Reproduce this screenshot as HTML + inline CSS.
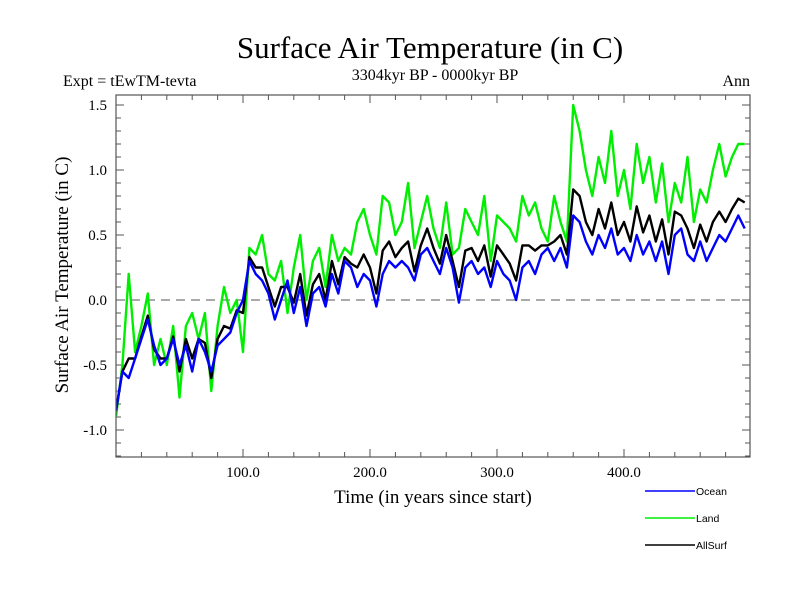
<!DOCTYPE html>
<html><head><meta charset="utf-8"><style>body{margin:0;background:#fff}svg{display:block}</style></head>
<body>
<svg id="chart" width="800" height="600" xmlns="http://www.w3.org/2000/svg" font-family="Liberation Serif, serif">
<text x="430" y="58" font-size="31" text-anchor="middle">Surface Air Temperature (in C)</text>
<text x="63" y="86" font-size="16">Expt = tEwTM-tevta</text>
<text x="435" y="80" font-size="16" text-anchor="middle">3304kyr BP - 0000kyr BP</text>
<text x="750" y="86" font-size="16" text-anchor="end">Ann</text>
<text transform="translate(68,275) rotate(-90)" font-size="19" text-anchor="middle">Surface Air Temperature (in C)</text>
<text x="433" y="503" font-size="19" text-anchor="middle">Time (in years since start)</text>
<g id="ticks"></g>
<g id="series" clip-path="url(#clip)"></g>
<defs><clipPath id="clip"><rect x="116" y="95" width="634" height="362"/></clipPath></defs>
<rect x="116" y="95" width="634" height="362" fill="none" stroke="#555" stroke-width="1.2"/>
<g font-family="Liberation Sans, sans-serif" font-size="10.5">
<line x1="645" y1="491" x2="695" y2="491" stroke="#00f" stroke-width="1.5"/>
<text x="696" y="495">Ocean</text>
<line x1="645" y1="518" x2="695" y2="518" stroke="#0e0" stroke-width="1.5"/>
<text x="696" y="522">Land</text>
<line x1="645" y1="545" x2="695" y2="545" stroke="#000" stroke-width="1.5"/>
<text x="696" y="549">AllSurf</text>
</g>
</svg>
<script>
const yearStep = 5;
const xTickLabels = ["100.0","200.0","300.0","400.0"];
const xTickValues = [100,200,300,400];
const yTickValues = [1.5,1.0,0.5,0.0,-0.5,-1.0];
const yTickLabels = ["1.5","1.0","0.5","0.0","-0.5","-1.0"];
const ocean = [-0.85,-0.55,-0.6,-0.45,-0.3,-0.15,-0.35,-0.5,-0.45,-0.3,-0.5,-0.35,-0.55,-0.3,-0.4,-0.55,-0.35,-0.3,-0.25,-0.1,
0.0,0.3,0.2,0.15,0.05,-0.15,0.0,0.15,-0.1,0.1,-0.2,0.05,0.1,-0.05,0.2,0.05,0.3,0.25,0.1,0.2,
0.15,-0.05,0.2,0.3,0.25,0.3,0.25,0.15,0.35,0.4,0.3,0.2,0.4,0.25,-0.02,0.25,0.3,0.2,0.25,0.1,
0.3,0.2,0.15,0.0,0.25,0.3,0.2,0.35,0.4,0.3,0.4,0.25,0.65,0.6,0.45,0.35,0.5,0.4,0.55,0.35,
0.4,0.3,0.5,0.35,0.45,0.3,0.45,0.2,0.5,0.55,0.35,0.3,0.45,0.3,0.4,0.5,0.45,0.55,0.65,0.55];
const land = [-0.9,-0.5,0.2,-0.4,-0.2,0.05,-0.5,-0.3,-0.5,-0.2,-0.75,-0.2,-0.1,-0.3,-0.1,-0.7,-0.2,0.1,-0.1,0.0,
-0.4,0.4,0.35,0.5,0.2,0.15,0.3,-0.1,0.25,0.5,0.0,0.3,0.4,0.1,0.5,0.3,0.4,0.35,0.6,0.7,
0.5,0.35,0.8,0.75,0.5,0.6,0.9,0.4,0.6,0.8,0.55,0.4,0.75,0.35,0.4,0.7,0.6,0.5,0.8,0.3,
0.65,0.6,0.55,0.45,0.8,0.65,0.75,0.55,0.45,0.8,0.6,0.45,1.5,1.3,1.0,0.8,1.1,0.9,1.3,0.8,
1.0,0.7,1.2,0.9,1.1,0.75,1.05,0.6,0.9,0.75,1.1,0.6,0.85,0.75,1.0,1.2,0.95,1.1,1.2,1.2];
const allSurf = [-0.85,-0.55,-0.45,-0.45,-0.28,-0.12,-0.38,-0.45,-0.45,-0.28,-0.55,-0.3,-0.45,-0.3,-0.33,-0.6,-0.3,-0.2,-0.22,-0.08,
-0.1,0.33,0.25,0.25,0.1,-0.05,0.1,0.1,-0.02,0.2,-0.12,0.12,0.2,0.0,0.3,0.12,0.33,0.28,0.25,0.35,
0.25,0.05,0.38,0.45,0.33,0.4,0.45,0.22,0.42,0.55,0.4,0.28,0.5,0.3,0.1,0.38,0.4,0.3,0.42,0.18,
0.42,0.35,0.28,0.15,0.42,0.42,0.38,0.42,0.42,0.45,0.5,0.35,0.85,0.8,0.6,0.5,0.7,0.55,0.75,0.5,
0.6,0.45,0.72,0.52,0.65,0.45,0.62,0.35,0.68,0.65,0.55,0.4,0.58,0.45,0.6,0.68,0.6,0.7,0.78,0.75];
const NS="http://www.w3.org/2000/svg";
const X0=116,X1=750,Y0=95,Y1=457;
function xs(t){return X0+(t-0)*(X1-X0)/499.2;}
function ys(v){return 300-v*130;}
const tk=document.getElementById('ticks');
function ln(x1,y1,x2,y2,c,w,d){const l=document.createElementNS(NS,'line');l.setAttribute('x1',x1);l.setAttribute('y1',y1);l.setAttribute('x2',x2);l.setAttribute('y2',y2);l.setAttribute('stroke',c);l.setAttribute('stroke-width',w);if(d)l.setAttribute('stroke-dasharray',d);


tk.appendChild(l);return l;}
for(let v=-1.2;v<=1.55;v+=0.1){const y=ys(v);if(y<Y0||y>Y1)continue;const major=Math.abs(v*2-Math.round(v*2))<0.01;const L=major?8:5;ln(X0,y,X0+L,y,'#555',1);ln(X1-L,y,X1,y,'#555',1);}
for(let t=20;t<500;t+=20){const x=xs(t);const major=t%100===0;const L=major?8:5;ln(x,Y1,x,Y1-L,'#555',1);ln(x,Y0,x,Y0+L,'#555',1);}
yTickValues.forEach((v,i)=>{const t=document.createElementNS(NS,'text');t.setAttribute('x',107);t.setAttribute('y',ys(v)+5);t.setAttribute('text-anchor','end');t.setAttribute('font-size','15');t.textContent=yTickLabels[i];


tk.appendChild(t);});
xTickValues.forEach((v,i)=>{const t=document.createElementNS(NS,'text');t.setAttribute('x',xs(v));t.setAttribute('y',477);t.setAttribute('text-anchor','middle');t.setAttribute('font-size','15');t.textContent=xTickLabels[i];


tk.appendChild(t);});
const zl=ln(X0,ys(0),X1,ys(0),'#777',1.3,'9,6');

const sg=document.getElementById('series');
function series(arr,color,name){const p=document.createElementNS(NS,'polyline');p.setAttribute('points',arr.map((v,i)=>xs(i*yearStep).toFixed(1)+','+ys(v).toFixed(1)).join(' '));p.setAttribute('fill','none');p.setAttribute('stroke',color);p.setAttribute('stroke-width','2.4');p.setAttribute('stroke-linejoin','round');


sg.appendChild(p);}
series(land,'#00ee00','land-line');
series(allSurf,'#000','allsurf-line');
series(ocean,'#0000ff','ocean-line');
</script>
</body></html>
